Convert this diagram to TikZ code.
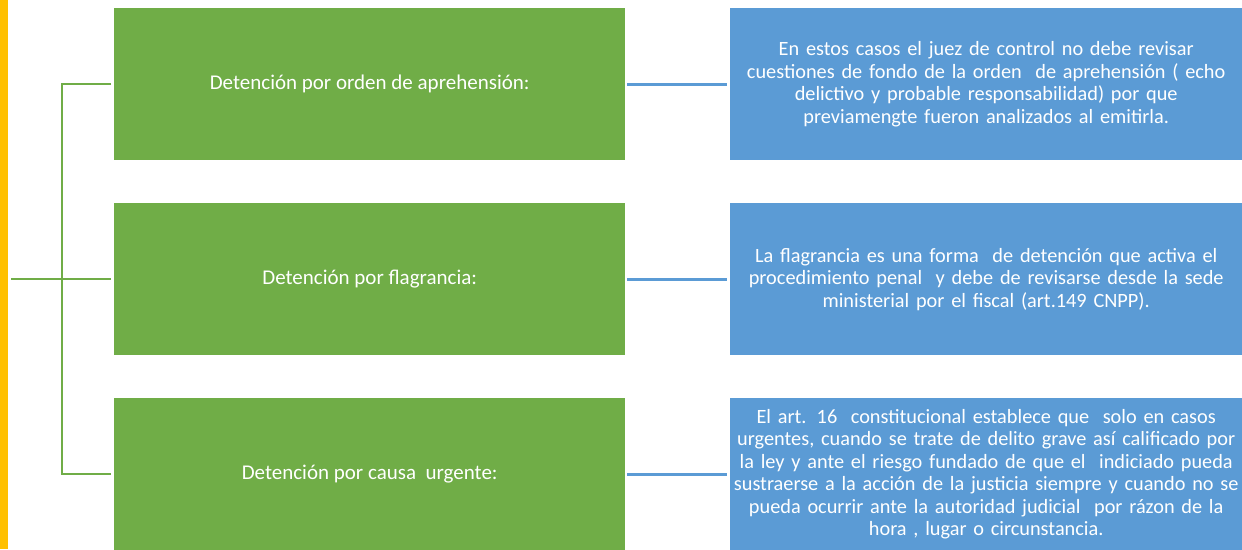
\documentclass[tikz,border=0pt]{standalone}
\usepackage{fontspec}
\setmainfont{Carlito}
\definecolor{grn}{HTML}{70AD47}
\definecolor{blu}{HTML}{5B9BD5}
\definecolor{yel}{HTML}{FFC000}
\begin{document}
\begin{tikzpicture}[x=1pt,y=-1pt,
  txt/.style={text=white, inner sep=0pt, anchor=north west, align=center},
  gbox/.style={txt, font=\fontsize{21}{24}\selectfont, fill=grn, minimum width=511pt, minimum height=152pt},
  bbox/.style={txt, font=\fontsize{20.3}{22.5}\selectfont, fill=blu, minimum width=512pt, minimum height=152pt, text width=512pt},
  gline/.style={draw=grn, line width=2.4pt},
  bline/.style={draw=blu, line width=2.6pt, shorten <=2pt, shorten >=3pt}
]
\useasboundingbox (0,0) rectangle (1242,549);
\fill[yel] (0,0) rectangle (8,549);
\node[gbox] (g1) at (114,8) {Detención por orden de aprehensión:};
\node[gbox] (g2) at (114,203) {Detención por flagrancia:};
\node[gbox] (g3) at (114,398) {Detención por causa\ \ urgente:};
\node[bbox] (b1) at (730,8) {En estos casos el juez de control no debe revisar\\cuestiones de fondo de la orden\ \ de aprehensión ( echo\\delictivo y probable responsabilidad) por que\\previamengte fueron analizados al emitirla.};
\node[bbox] (b2) at (730,203) {La flagrancia es una forma\ \ de detención que activa el\\procedimiento penal\ \ y debe de revisarse desde la sede\\ministerial por el fiscal (art.149 CNPP).};
\node[bbox] (b3) at (730,398) {El art. 16\ \ constitucional establece que\ \ solo en casos\\urgentes, cuando se trate de delito grave así calificado por\\la ley y ante el riesgo fundado de que el\ \ indiciado pueda\\sustraerse a la acción de la justicia siempre y cuando no se\\pueda ocurrir ante la autoridad judicial\ \ por rázon de la\\hora , lugar o circunstancia.};
\path (g2.west) ++(-52,0) coordinate (trunk) ++(-51,0) coordinate (root);
\draw[gline] ([xshift=-3pt]g1.west) -| (trunk) |- ([xshift=-3pt]g3.west);
\draw[gline] (root) -- ([xshift=-3pt]g2.west);
\draw[bline] (g1.east) -- (b1.west);
\draw[bline] (g2.east) -- (b2.west);
\draw[bline] (g3.east) -- (b3.west);
\end{tikzpicture}
\end{document}
